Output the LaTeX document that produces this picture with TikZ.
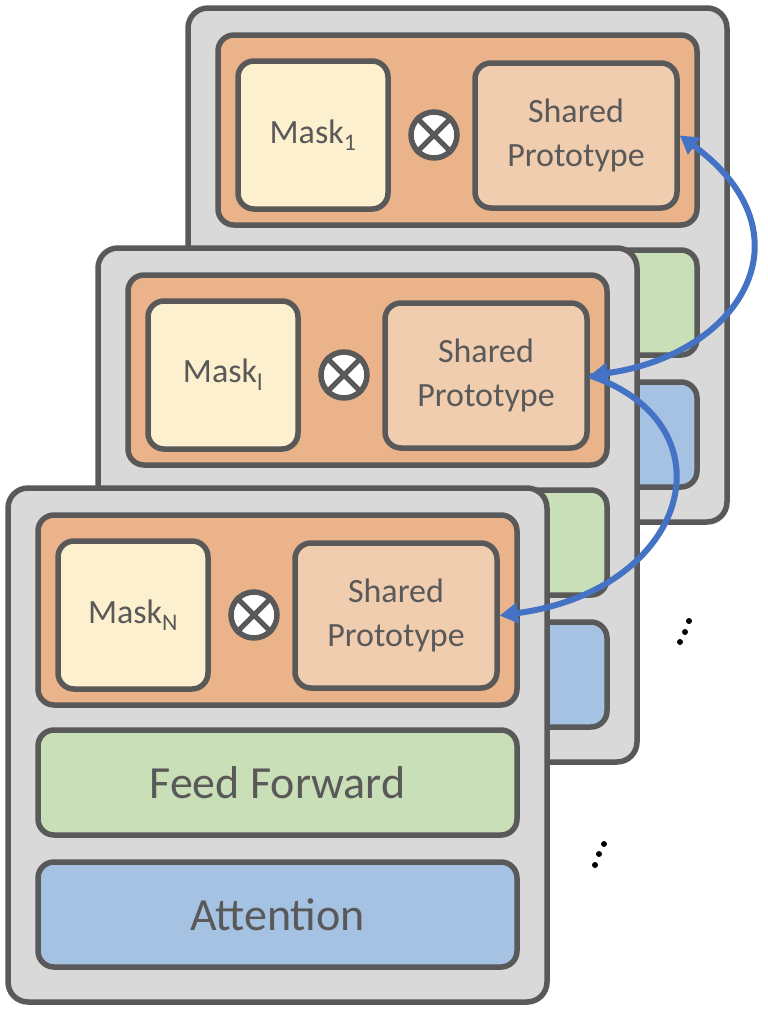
\documentclass[tikz,border=0pt]{standalone}
\usepackage{fontspec}
\setmainfont{Carlito}
\usepackage{tikz}
\usetikzlibrary{arrows.meta}
\definecolor{color_layer}{HTML}{D9D9D9}
\definecolor{color_edge}{HTML}{595959}
\definecolor{color_block}{HTML}{EAB38A}
\definecolor{color_mask}{HTML}{FDF0CE}
\definecolor{color_shared}{HTML}{F1CDB0}
\definecolor{color_ffn}{HTML}{C9DFB7}
\definecolor{color_attn}{HTML}{A5C2E2}
\definecolor{color_link}{HTML}{4472C4}

\begin{document}
\begin{tikzpicture}[x=1pt, y=-1pt, align=center, >={Triangle[length=18pt, width=20pt]}]
  \tikzset{ % Specifications for style of nodes:
      base/.style = {rectangle, rounded corners=16pt, draw=color_edge, line width=5.5pt, inner sep=0pt, text=color_edge},
      layer/.style = {base, rounded corners=20pt, fill=color_layer, minimum width=539pt, minimum height=514pt},
      block/.style = {base, fill=color_block, minimum width=479pt, minimum height=190pt},
      mask/.style = {base, fill=color_mask, minimum width=150pt, minimum height=148pt, font=\fontsize{34}{40}\selectfont},
      shared/.style = {base, fill=color_shared, minimum width=202pt, minimum height=145pt, font=\fontsize{34}{44}\selectfont},
      ffn/.style = {base, fill=color_ffn, minimum width=479pt, minimum height=105pt, font=\fontsize{46}{50}\selectfont},
      attn/.style = {base, fill=color_attn, minimum width=479pt, minimum height=105pt, font=\fontsize{46}{50}\selectfont},
      otimes/.style = {circle, draw=color_edge, line width=5.5pt, fill=white, minimum size=46pt, inner sep=0pt},
      link/.style = {color_link, line width=6pt},
  }
  \useasboundingbox (0,0) rectangle (768,1012);
  % layers, back to front
  \foreach \lay/\dx/\dy/\sub/\fftext/\attext in {top/188/8/1/{}/{}, mid/98/248/l/{}/{}, front/8/488/N/Feed Forward/Attention} {
    \begin{scope}[shift={(\dx,\dy)}]
      \node (layer\lay) [layer] at (269.5,257) {};
      \node (block\lay) [block] at (269.5,122) {};
      \node (mask\lay) [mask] at (125,127) {Mask\textsubscript{\sub}};
      \node (shared\lay) [shared] at (388,127.5) {Shared\\Prototype};
      \node (ot\lay) [otimes] at (246,127) {};
      \draw[color_edge, line width=5pt] (ot\lay.north west) -- (ot\lay.south east) (ot\lay.north east) -- (ot\lay.south west);
      \node (ffn\lay) [ffn] at (269.5,294.5) {\fftext};
      \node (attn\lay) [attn] at (269.5,426.5) {\attext};
    \end{scope}
  }
  % shared prototype links
  \draw[link, ->] (sharedmid.east) .. controls (735,425) and (690,590) .. (sharedfront.east);
  \draw[link, <->] (sharedmid.east) .. controls (740,355) and (815,235) .. (sharedtop.east);
  % dots
  \foreach \x/\y in {689/621, 685/632, 680/642, 604/844, 599/854, 595/865}
    \fill (\x,\y) circle (3pt);
\end{tikzpicture}
\end{document}
